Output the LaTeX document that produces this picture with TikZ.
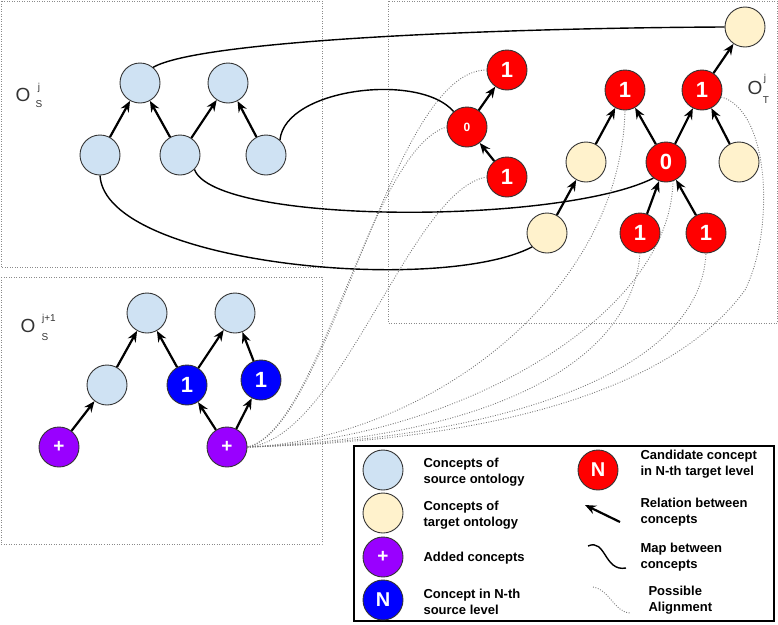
\documentclass[tikz,border=0pt]{standalone}
\usepackage{fontspec}
\setmainfont{Liberation Sans}
\usetikzlibrary{arrows.meta}
\definecolor{srcblue}{HTML}{CFE2F3}
\definecolor{tgttan}{HTML}{FFF2CC}
\definecolor{candred}{HTML}{FF0000}
\definecolor{lvlblue}{HTML}{0000FF}
\definecolor{addpurple}{HTML}{9900FF}
\definecolor{edgegray}{HTML}{333333}
\definecolor{boxgray}{HTML}{8A8A8A}
\definecolor{dotgray}{HTML}{777777}
\definecolor{labelgray}{HTML}{333333}
\tikzset{
  concept/.style={circle, draw=edgegray, line width=0.9pt, minimum size=40pt, inner sep=0pt},
  src/.style={concept, fill=srcblue},
  tgt/.style={concept, fill=tgttan},
  cand/.style={concept, fill=candred, text=white, font=\bfseries\fontsize{22}{22}\selectfont},
  candsmall/.style={concept, fill=candred, text=white, font=\bfseries\fontsize{12}{12}\selectfont},
  lvl/.style={concept, fill=lvlblue, text=white, font=\bfseries\fontsize{22}{22}\selectfont},
  added/.style={concept, fill=addpurple, text=white, font=\bfseries\fontsize{19}{19}\selectfont},
  rel/.style={-{Stealth[length=11pt,width=9pt,inset=3.8pt]}, line width=2.2pt},
  mapline/.style={line width=1.4pt},
  posalign/.style={draw=dotgray, dash pattern=on 0.9pt off 1.6pt, line width=0.9pt},
  regionbox/.style={draw=boxgray, dash pattern=on 0.9pt off 1.6pt, line width=0.8pt},
  legtext/.style={anchor=west, align=left, font=\bfseries\fontsize{13}{16}\selectfont},
  olabel/.style={text=labelgray, font=\fontsize{19}{19}\selectfont, inner sep=0pt},
  oscript/.style={text=labelgray, font=\fontsize{10}{10}\selectfont, inner sep=0pt}
}
\begin{document}
\begin{tikzpicture}[x=1pt,y=-1pt]
\useasboundingbox (0,0) rectangle (778,624);

% region boxes
\draw[regionbox] (1,1) rectangle (322,267);
\draw[regionbox] (388,1) rectangle (777,323);
\draw[regionbox] (1,277) rectangle (322,544);

% labels
\node[olabel] (lo1) at (23,95) {O};
\node[oscript] (lo1j) at (39,88) {j};
\node[oscript] (lo1s) at (39,104) {S};
\node[olabel] (lo2) at (755,88) {O};
\node[oscript] (lo2j) at (765,79) {j};
\node[oscript] (lo2t) at (766,100) {T};
\node[olabel] (lo3) at (28,326) {O};
\node[oscript] (lo3j) at (49,319) {j+1};
\node[oscript] (lo3s) at (45,337) {S};

% source ontology O_S^j
\node[src] (S1) at (140,83) {};
\node[src] (S2) at (228,83) {};
\node[src] (S3) at (100,155) {};
\node[src] (S4) at (180,155) {};
\node[src] (S5) at (266,155) {};
\draw[rel] (S3) -- (S1);
\draw[rel] (S4) -- (S1);
\draw[rel] (S4) -- (S2);
\draw[rel] (S5) -- (S2);

% target ontology O_T^j
\node[tgt] (T1) at (745,27) {};
\node[cand] (R1) at (507,70) {1};
\node[candsmall] (R0a) at (467,127) {0};
\node[cand] (R1b) at (507,177) {1};
\node[cand] (R1c) at (625,90) {1};
\node[cand] (R1d) at (702,90) {1};
\node[tgt] (T2) at (586,162) {};
\node[cand] (R0b) at (666,162) {0};
\node[tgt] (T3) at (739,162) {};
\node[tgt] (T4) at (547,233) {};
\node[cand] (R1e) at (640,233) {1};
\node[cand] (R1f) at (706,233) {1};
\draw[rel] (R0a) -- (R1);
\draw[rel] (R1b) -- (R0a);
\draw[rel] (T4) -- (T2);
\draw[rel] (T2) -- (R1c);
\draw[rel] (R0b) -- (R1c);
\draw[rel] (R0b) -- (R1d);
\draw[rel] (T3) -- (R1d);
\draw[rel] (R1d) -- (T1);
\draw[rel] (R1e) -- (R0b);
\draw[rel] (R1f) -- (R0b);

% source ontology O_S^{j+1}
\node[src] (A1) at (147,313) {};
\node[src] (A2) at (235,313) {};
\node[src] (A3) at (107,385) {};
\node[lvl] (B1) at (187,385) {1};
\node[lvl] (B2) at (261,380) {1};
\node[added] (P1) at (59,447) {+};
\node[added] (P2) at (227,447) {+};
\draw[rel] (P1) -- (A3);
\draw[rel] (A3) -- (A1);
\draw[rel] (B1) -- (A1);
\draw[rel] (B1) -- (A2);
\draw[rel] (B2) -- (A2);
\draw[rel] (P2) -- (B1);
\draw[rel] (P2) -- (B2);

% maps between concepts
\draw[mapline] (S1.50) .. controls (200,40) and (500,28) .. (T1.west);
\draw[mapline] (S5.47) .. controls (285,88) and (420,72) .. (R0a.131);
\draw[mapline] (S4.-45) .. controls (215,225) and (560,225) .. (R0b.232);
\draw[mapline] (S3.south) .. controls (105,265) and (440,295) .. (T4.223);

% possible alignments
\draw[posalign] (P2.east) .. controls (330,430) and (390,70) .. (R1.west);
\draw[posalign] (P2.east) .. controls (320,430) and (370,150) .. (R0a.west);
\draw[posalign] (P2.east) .. controls (340,440) and (410,190) .. (R1b.west);
\draw[posalign] (P2.east) .. controls (420,440) and (620,300) .. (R1c.south);
\draw[posalign] (P2.east) .. controls (450,440) and (670,320) .. (R0b.290);
\draw[posalign] (P2.east) .. controls (450,440) and (630,380) .. (R1e.south);
\draw[posalign] (P2.east) .. controls (480,440) and (700,380) .. (R1f.south);
\draw[posalign] (P2.east) .. controls (520,440) and (680,380) .. (745,290)
   .. controls (775,230) and (770,110) .. (R1d.-20);

% legend
\draw[line width=2.2pt] (354,446) rectangle (774,621);
\node[src] (L1) at (383,470) {};
\node[legtext] (L1t) at (420,472) {Concepts of\\source ontology};
\node[tgt] (L2) at (383,513) {};
\node[legtext] (L2t) at (420,515) {Concepts of\\target ontology};
\node[added] (L3) at (383,557) {+};
\node[legtext] (L3t) at (420,558) {Added concepts};
\node[lvl, font=\bfseries\fontsize{20}{20}\selectfont] (L4) at (383,600) {N};
\node[legtext] (L4t) at (420,602) {Concept in N-th\\source level};
\node[cand, font=\bfseries\fontsize{20}{20}\selectfont] (L5) at (598,470) {N};
\node[legtext] (L5t) at (637,464) {Candidate concept\\in N-th target level};
\coordinate (la1) at (620,522);
\coordinate (la2) at (585,505);
\draw[rel] (la1) -- (la2);
\node[legtext] (L6t) at (637,512) {Relation between\\concepts};
\coordinate (lm1) at (588,546);
\coordinate (lm2) at (626,568);
\draw[mapline] (lm1) .. controls (606,538) and (604,572) .. (lm2);
\node[legtext] (L7t) at (637,557) {Map between\\concepts};
\coordinate (ld1) at (593,587);
\coordinate (ld2) at (630,613);
\draw[posalign] (ld1) .. controls (610,590) and (614,612) .. (ld2);
\node[legtext] (L8t) at (645,600) {Possible\\Alignment};
\end{tikzpicture}
\end{document}
